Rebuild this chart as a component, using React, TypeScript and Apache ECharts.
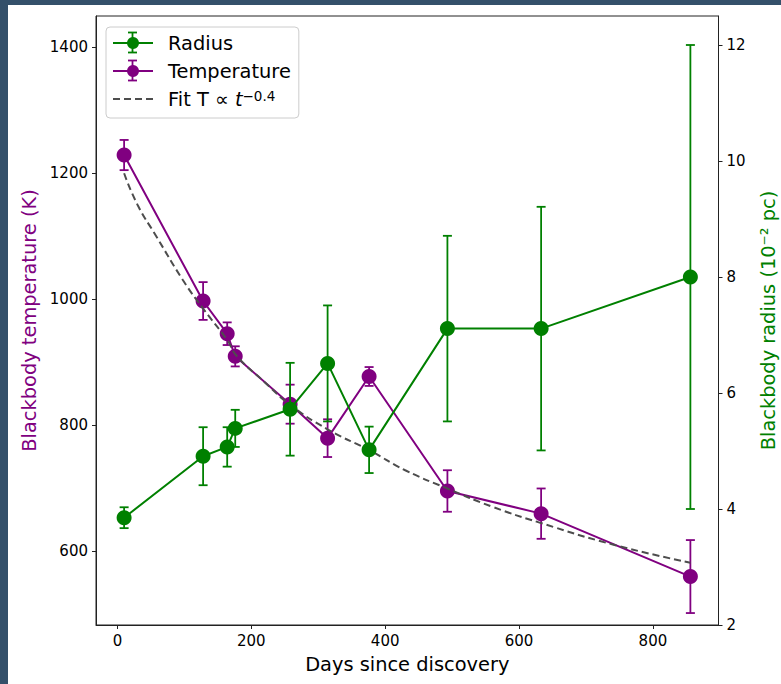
import React, { useEffect, useRef } from "react";
import * as echarts from "echarts";

const days = [10, 128, 164, 176, 258, 314, 376, 493, 633, 856];
const temperature = [1229, 997, 945, 909, 833, 779, 877, 695, 659, 559];
const temperatureErr = [24, 30, 18, 16, 31, 30, 15, 33, 40, 58];
const radius = [3.85, 4.91, 5.07, 5.39, 5.72, 6.51, 5.02, 7.11, 7.11, 8.0];
const radiusErr = [0.18, 0.5, 0.34, 0.32, 0.8, 1.0, 0.4, 1.6, 2.1, 4.0];

const fitDays = [10, 30, 58, 98, 128, 164, 178, 220, 258, 314, 376, 430, 493, 560, 633, 740, 856];
const fitTemperature = [1200, 1150, 1100, 1030, 985, 935, 910, 868, 832, 793, 760, 728, 699, 670, 644, 610, 581];

const xTicks = [0, 200, 400, 600, 800];
const leftTicks = [600, 800, 1000, 1200, 1400];
const rightTicks = [2, 4, 6, 8, 10, 12];

const FONT = "DejaVu Sans";
const PURPLE = "#800080";
const GREEN = "#008000";
const BIG = 19.4;

function errorBarSeries(name: string, values: number[], errs: number[], color: string, yAxisIndex: number, z: number) {
  return {
    type: "custom",
    name: name + "-err",
    yAxisIndex,
    z,
    silent: true,
    data: days.map((d, i) => [d, values[i] - errs[i], values[i] + errs[i]]),
    encode: { x: 0, y: [1, 2] },
    renderItem: (params: any, api: any) => {
      const x = api.value(0);
      const lo = api.coord([x, api.value(1)]);
      const hi = api.coord([x, api.value(2)]);
      const w = 4.5;
      const st = { stroke: color, lineWidth: 1.8 };
      return {
        type: "group",
        children: [
          { type: "line", shape: { x1: lo[0], y1: lo[1], x2: hi[0], y2: hi[1] }, style: st },
          { type: "line", shape: { x1: lo[0] - w, y1: lo[1], x2: lo[0] + w, y2: lo[1] }, style: st },
          { type: "line", shape: { x1: hi[0] - w, y1: hi[1], x2: hi[0] + w, y2: hi[1] }, style: st },
        ],
      };
    },
  };
}

function legendErrBar(cx: number, cy: number, color: string) {
  const st = { stroke: color, lineWidth: 1.8 };
  const h = 10;
  const w = 4.5;
  return [
    { type: "line", z: 300, silent: true, shape: { x1: cx, y1: cy - h, x2: cx, y2: cy + h }, style: st },
    { type: "line", z: 300, silent: true, shape: { x1: cx - w, y1: cy - h, x2: cx + w, y2: cy - h }, style: st },
    { type: "line", z: 300, silent: true, shape: { x1: cx - w, y1: cy + h, x2: cx + w, y2: cy + h }, style: st },
  ];
}

export default function App() {
  const ref = useRef<HTMLDivElement>(null);
  useEffect(() => {
    const chart = echarts.init(ref.current!, null, { renderer: "svg" });
    const tickStyle = { color: "#000", fontSize: 15, fontFamily: FONT, formatter: (v: number) => String(v) };
    const axisLine = { show: true, onZero: false, lineStyle: { color: "#222", width: 1 } };
    const tick = (vals: number[]) => ({ show: true, length: 4, customValues: vals, lineStyle: { color: "#222", width: 1 } });
    const option: any = {
      animation: false,
      backgroundColor: "#fff",
      textStyle: { fontFamily: FONT },
      grid: {
        left: 88,
        right: 62.5,
        top: 11,
        bottom: 59,
        show: true,
        borderColor: "#222",
        borderWidth: 1,
        backgroundColor: "transparent",
        containLabel: false,
        outerBoundsMode: "none",
      },
      graphic: {
        z: 100,
        elements: [...legendErrBar(124.5, 37.5, GREEN), ...legendErrBar(124.5, 65.5, PURPLE)],
      },
      legend: {
        z: 5,
        orient: "vertical",
        left: 98,
        top: 22,
        data: ["Radius", "Temperature", { name: "Fit", itemStyle: { opacity: 0 } }],
        backgroundColor: "rgba(255,255,255,0.8)",
        borderColor: "#cccccc",
        borderWidth: 1,
        borderRadius: 4,
        padding: [6, 8, 9, 6],
        itemWidth: 40,
        itemHeight: 15,
        itemGap: 8,
        textStyle: {
          fontSize: BIG,
          color: "#000",
          fontFamily: FONT,
          lineHeight: 20,
          padding: [0, 0, 0, 10],
          rich: {
            a: { fontSize: BIG, fontFamily: FONT, color: "#000", lineHeight: 20 },
            b: { fontSize: BIG, fontStyle: "italic", fontFamily: FONT, color: "#000", lineHeight: 20 },
            c: { fontSize: 13.5, fontFamily: FONT, color: "#000", verticalAlign: "top", padding: [0, 0, 10, 0] },
          },
        },
        formatter: (name: string) => (name === "Fit" ? "{a|Fit T ∝ }{b|t}{c|−0.4}" : name),
      },
      xAxis: {
        type: "value",
        min: -32,
        max: 898,
        name: "Days since discovery",
        nameLocation: "middle",
        nameGap: 30,
        nameTextStyle: { fontSize: BIG, color: "#000", fontFamily: FONT },
        axisLine,
        splitLine: { show: false },
        axisTick: tick(xTicks),
        axisLabel: { ...tickStyle, margin: 8, customValues: xTicks },
      },
      yAxis: [
        {
          type: "value",
          position: "left",
          min: 482,
          max: 1450,
          name: "Blackbody temperature (K)",
          nameLocation: "middle",
          nameGap: 56,
          nameTextStyle: { fontSize: BIG, color: PURPLE, fontFamily: FONT },
          axisLine,
          splitLine: { show: false },
          axisTick: tick(leftTicks),
          axisLabel: { ...tickStyle, margin: 8, customValues: leftTicks },
        },
        {
          type: "value",
          position: "right",
          min: 2,
          max: 12.5,
          name: "Blackbody radius (10⁻² pc)",
          nameLocation: "middle",
          nameRotate: 90,
          nameGap: 40,
          nameTextStyle: { fontSize: BIG, color: GREEN, fontFamily: FONT },
          axisLine,
          splitLine: { show: false },
          axisTick: tick(rightTicks),
          axisLabel: { ...tickStyle, margin: 8, customValues: rightTicks },
        },
      ],
      series: [
        errorBarSeries("Temperature", temperature, temperatureErr, PURPLE, 0, 2),
        {
          type: "line",
          name: "Temperature",
          yAxisIndex: 0,
          z: 2,
          data: days.map((d, i) => [d, temperature[i]]),
          symbol: "circle",
          symbolSize: 15,
          lineStyle: { color: PURPLE, width: 2 },
          itemStyle: { color: PURPLE },
        },
        {
          type: "line",
          name: "Fit",
          yAxisIndex: 0,
          z: 3,
          data: fitDays.map((d, i) => [d, fitTemperature[i]]),
          smooth: true,
          symbol: "none",
          lineStyle: { color: "#4d4d4d", width: 2, type: [7, 4] },
          itemStyle: { color: "#4d4d4d" },
        },
        errorBarSeries("Radius", radius, radiusErr, GREEN, 1, 4),
        {
          type: "line",
          name: "Radius",
          yAxisIndex: 1,
          z: 4,
          data: days.map((d, i) => [d, radius[i]]),
          symbol: "circle",
          symbolSize: 15,
          lineStyle: { color: GREEN, width: 2 },
          itemStyle: { color: GREEN },
        },
      ],
    };
    chart.setOption(option);
    return () => chart.dispose();
  }, []);
  return (
    <div style={{ position: "fixed", left: 0, top: 0, width: 781, height: 684, background: "#34506a" }}>
      <div ref={ref} style={{ position: "absolute", left: 8, top: 5, width: 773, height: 679, background: "#fff" }} />
    </div>
  );
}
